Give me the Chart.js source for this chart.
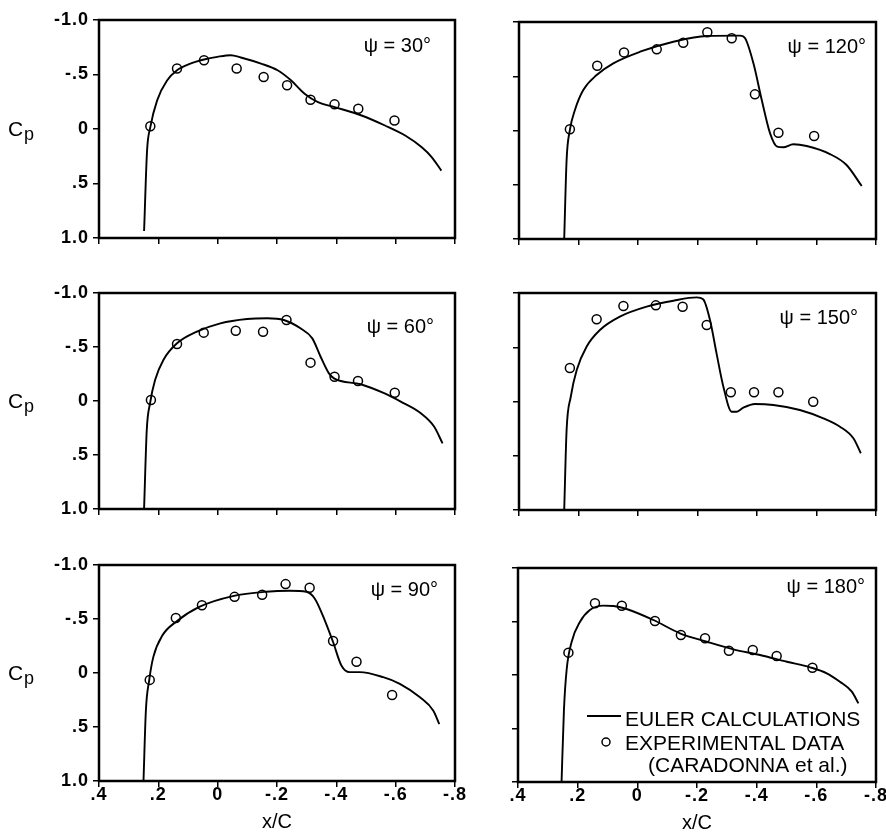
<!DOCTYPE html>
<html><head><meta charset="utf-8">
<script src="https://cdn.jsdelivr.net/npm/chart.js@4.4.1/dist/chart.umd.min.js"></script>
<style>
html,body{margin:0;padding:0;background:#fff;width:886px;height:834px;overflow:hidden;position:relative}
canvas{position:absolute;display:block}
</style></head><body>
<canvas id="p30"></canvas><canvas id="p120"></canvas>
<canvas id="p60"></canvas><canvas id="p150"></canvas>
<canvas id="p90"></canvas><canvas id="p180"></canvas>
<script>
// ---------- tick labels / categories ----------
const xTickValues = [0.4, 0.2, 0, -0.2, -0.4, -0.6, -0.8];
const xTickLabels = ['.4', '.2', '0', '-.2', '-.4', '-.6', '-.8'];
const yTickValues = [-1, -0.5, 0, 0.5, 1];
const yTickLabels = ['-1.0', '-.5', '0', '.5', '1.0'];
const panelAngles = ['30', '120', '60', '150', '90', '180'];
const seriesNames = ['EULER CALCULATIONS', 'EXPERIMENTAL DATA'];
const legendNote = '(CARADONNA et al.)';
const xAxisTitle = 'x/C';
const yAxisTitle = 'C';
const yAxisSub = 'p';

// ---------- psi = 30 ----------
const euler30X = [0.248, 0.238, 0.227, 0.204, 0.170, 0.137, 0.092, 0.046, 0.001, -0.044, -0.078, -0.146, -0.202, -0.247, -0.293, -0.338, -0.394, -0.485, -0.564, -0.632, -0.688, -0.722, -0.754];
const euler30Y = [0.935, 0.198, -0.017, -0.263, -0.447, -0.539, -0.600, -0.638, -0.662, -0.677, -0.656, -0.600, -0.539, -0.447, -0.324, -0.247, -0.201, -0.124, -0.032, 0.060, 0.168, 0.260, 0.382];
const exp30X = [0.227, 0.137, 0.046, -0.064, -0.155, -0.234, -0.313, -0.394, -0.474, -0.596];
const exp30Y = [-0.026, -0.555, -0.631, -0.555, -0.477, -0.401, -0.269, -0.226, -0.186, -0.078];

// ---------- psi = 120 ----------
const euler120X = [0.248, 0.240, 0.229, 0.212, 0.184, 0.139, 0.083, -0.007, -0.119, -0.231, -0.343, -0.360, -0.388, -0.416, -0.444, -0.468, -0.488, -0.522, -0.567, -0.645, -0.701, -0.752];
const euler120Y = [0.994, 0.272, -0.005, -0.189, -0.373, -0.511, -0.619, -0.726, -0.818, -0.871, -0.874, -0.850, -0.619, -0.281, 0.026, 0.149, 0.155, 0.127, 0.143, 0.217, 0.318, 0.512];
const exp120X = [0.229, 0.137, 0.047, -0.063, -0.152, -0.233, -0.315, -0.393, -0.472, -0.592];
const exp120Y = [-0.011, -0.597, -0.720, -0.748, -0.809, -0.905, -0.850, -0.333, 0.020, 0.051];

// ---------- psi = 60 ----------
const euler60X = [0.248, 0.239, 0.228, 0.211, 0.183, 0.137, 0.070, -0.009, -0.099, -0.167, -0.223, -0.279, -0.319, -0.347, -0.375, -0.392, -0.482, -0.561, -0.617, -0.685, -0.730, -0.758];
const euler60Y = [0.994, 0.268, 0.021, -0.194, -0.380, -0.534, -0.642, -0.719, -0.759, -0.766, -0.750, -0.673, -0.580, -0.410, -0.256, -0.210, -0.155, -0.072, 0.006, 0.114, 0.238, 0.392];
const exp60X = [0.225, 0.137, 0.047, -0.061, -0.153, -0.232, -0.313, -0.394, -0.473, -0.597];
const exp60Y = [-0.010, -0.528, -0.633, -0.651, -0.642, -0.750, -0.355, -0.225, -0.185, -0.077];

// ---------- psi = 150 ----------
const euler150X = [0.248, 0.240, 0.226, 0.206, 0.173, 0.128, 0.061, -0.029, -0.119, -0.197, -0.219, -0.242, -0.264, -0.287, -0.315, -0.332, -0.354, -0.393, -0.455, -0.544, -0.623, -0.679, -0.724, -0.749];
const euler150Y = [0.994, 0.263, -0.044, -0.290, -0.505, -0.659, -0.782, -0.874, -0.929, -0.960, -0.942, -0.751, -0.444, -0.136, 0.094, 0.094, 0.057, 0.023, 0.032, 0.078, 0.155, 0.232, 0.339, 0.477];
const exp150X = [0.229, 0.139, 0.049, -0.060, -0.150, -0.231, -0.312, -0.390, -0.472, -0.589];
const exp150Y = [-0.309, -0.758, -0.880, -0.886, -0.874, -0.705, -0.085, -0.085, -0.085, 0.002];

// ---------- psi = 90 ----------
const euler90X = [0.250, 0.242, 0.231, 0.217, 0.186, 0.141, 0.062, -0.051, -0.163, -0.242, -0.299, -0.327, -0.361, -0.389, -0.417, -0.445, -0.479, -0.558, -0.614, -0.682, -0.727, -0.747];
const euler90Y = [1.0, 0.349, 0.070, -0.147, -0.349, -0.473, -0.612, -0.712, -0.752, -0.761, -0.752, -0.690, -0.488, -0.287, -0.070, -0.008, -0.008, 0.039, 0.100, 0.225, 0.349, 0.473];
const exp90X = [0.229, 0.141, 0.053, -0.057, -0.150, -0.229, -0.310, -0.389, -0.468, -0.588];
const exp90Y = [0.064, -0.510, -0.628, -0.705, -0.724, -0.823, -0.789, -0.296, -0.104, 0.203];

// ---------- psi = 180 ----------
const euler180X = [0.254, 0.246, 0.237, 0.220, 0.192, 0.159, 0.114, 0.080, 0.036, -0.054, -0.143, -0.233, -0.322, -0.411, -0.501, -0.579, -0.635, -0.679, -0.719, -0.741];
const euler180Y = [0.997, 0.327, -0.047, -0.311, -0.498, -0.607, -0.648, -0.645, -0.617, -0.514, -0.390, -0.311, -0.240, -0.187, -0.124, -0.072, -0.016, 0.063, 0.156, 0.265];
const exp180X = [0.231, 0.142, 0.052, -0.059, -0.146, -0.227, -0.307, -0.387, -0.467, -0.587];
const exp180Y = [-0.209, -0.670, -0.648, -0.505, -0.374, -0.343, -0.227, -0.234, -0.178, -0.068];

// ---------- layout (positions / sizes only) ----------
const layouts = [
  {id:'p30',  left:0,   top:0,   w:478, h:262, padTop:20, padRight:23, yW:99, xH:24, yLab:true,  xLab:false, tagR:24, tagB:32},
  {id:'p120', left:460, top:0,   w:426, h:263, padTop:22, padRight:10, yW:59, xH:24, yLab:false, xLab:false, tagR:10, tagB:31},
  {id:'p60',  left:0,   top:270, w:478, h:263, padTop:23, padRight:23, yW:99, xH:24, yLab:true,  xLab:false, tagR:21, tagB:40},
  {id:'p150', left:460, top:270, w:426, h:264, padTop:23, padRight:10, yW:59, xH:24, yLab:false, xLab:false, tagR:18, tagB:31},
  {id:'p90',  left:0,   top:540, w:478, h:294, padTop:25, padRight:23, yW:99, xH:53, yLab:true,  xLab:true,  tagR:17, tagB:31},
  {id:'p180', left:460, top:540, w:426, h:294, padTop:28, padRight:10, yW:58, xH:52, yLab:false, xLab:true,  tagR:11, tagB:25, legend:true}
];
const seriesX = [[euler30X, exp30X], [euler120X, exp120X], [euler60X, exp60X], [euler150X, exp150X], [euler90X, exp90X], [euler180X, exp180X]];
const seriesY = [[euler30Y, exp30Y], [euler120Y, exp120Y], [euler60Y, exp60Y], [euler150Y, exp150Y], [euler90Y, exp90Y], [euler180Y, exp180Y]];

const FONT = "'Liberation Sans', Arial, Helvetica, sans-serif";
const toPts = (xs, ys) => xs.map((x, i) => ({x: x, y: ys[i]}));
const labelFor = (vals, labs, v) => { const i = vals.findIndex(t => Math.abs(t - v) < 1e-9); return i < 0 ? '' : labs[i]; };

const spacingPlugin = {
  id: 'spacing',
  beforeDraw(chart) { chart.ctx.letterSpacing = '1px'; }
};

const decorPlugin = {
  id: 'decor',
  afterDraw(chart, args, opts) {
    const ctx = chart.ctx, a = chart.chartArea, L = opts.layout, idx = opts.index;
    ctx.save();
    ctx.letterSpacing = '0px';
    // frame
    ctx.strokeStyle = '#000';
    ctx.lineWidth = 2.5;
    ctx.strokeRect(a.left, a.top, a.right - a.left, a.bottom - a.top);
    // psi tag
    ctx.fillStyle = '#000';
    ctx.font = '20px ' + FONT;
    ctx.textAlign = 'right';
    ctx.textBaseline = 'alphabetic';
    ctx.fillText('\u03C8 = ' + panelAngles[idx] + '\u00B0', a.right - L.tagR, a.top + L.tagB);
    // Cp axis label
    if (L.yLab) {
      const y0 = chart.scales.y.getPixelForValue(0);
      ctx.textAlign = 'left';
      ctx.font = '21px ' + FONT;
      ctx.fillText(yAxisTitle, 8, y0 + 7);
      ctx.font = '18px ' + FONT;
      ctx.fillText(yAxisSub, 24, y0 + 10.5);
    }
    // x axis title
    if (L.xLab) {
      ctx.textAlign = 'center';
      ctx.font = '20px ' + FONT;
      ctx.fillText(xAxisTitle, (a.left + a.right) / 2, a.bottom + 47);
    }
    // legend
    if (L.legend) {
      const ds = chart.data.datasets;
      ctx.font = '21px ' + FONT;
      ctx.textAlign = 'left';
      ctx.lineWidth = 1.8;
      ctx.beginPath();
      ctx.moveTo(a.right - 289, a.bottom - 66);
      ctx.lineTo(a.right - 255, a.bottom - 66);
      ctx.stroke();
      ctx.fillText(ds[0].label, a.right - 251, a.bottom - 56);
      ctx.lineWidth = 1.5;
      ctx.beginPath();
      ctx.arc(a.right - 270, a.bottom - 40, 4, 0, Math.PI * 2);
      ctx.stroke();
      ctx.fillText(ds[1].label, a.right - 251, a.bottom - 32);
      ctx.fillText(legendNote, a.right - 228, a.bottom - 10);
    }
    ctx.restore();
  }
};

layouts.forEach((L, idx) => {
  const cv = document.getElementById(L.id);
  cv.width = L.w; cv.height = L.h;
  cv.style.left = L.left + 'px'; cv.style.top = L.top + 'px';
  cv.style.width = L.w + 'px'; cv.style.height = L.h + 'px';
  new Chart(cv.getContext('2d'), {
    type: 'scatter',
    data: {
      datasets: [
        {label: seriesNames[0], data: toPts(seriesX[idx][0], seriesY[idx][0]), showLine: true,
         borderColor: '#000', borderWidth: 1.9, pointRadius: 0, cubicInterpolationMode: 'monotone', fill: false},
        {label: seriesNames[1], data: toPts(seriesX[idx][1], seriesY[idx][1]), showLine: false,
         pointStyle: 'circle', pointRadius: 4.5, borderWidth: 1.5, borderColor: '#000', backgroundColor: 'rgba(0,0,0,0)'}
      ]
    },
    options: {
      responsive: false, animation: false, devicePixelRatio: 1,
      layout: {padding: {top: L.padTop, right: L.padRight, left: 0, bottom: 0}},
      plugins: {legend: {display: false}, tooltip: {enabled: false}, decor: {layout: L, index: idx}},
      scales: {
        x: {
          type: 'linear', min: -0.8, max: 0.4, reverse: true, position: 'bottom',
          afterBuildTicks: s => { s.ticks = xTickValues.map(v => ({value: v})); },
          afterFit: s => { s.height = L.xH; },
          grid: {drawOnChartArea: false, drawTicks: true, tickLength: 6, color: '#000', lineWidth: 1.5},
          border: {display: false},
          ticks: {autoSkip: false, maxRotation: 0, padding: -3, color: '#000',
                  font: {family: FONT, size: 18, weight: 'bold'},
                  callback: v => L.xLab ? labelFor(xTickValues, xTickLabels, v) : ''},
          title: {display: false}
        },
        y: {
          type: 'linear', min: -1, max: 1, reverse: true, position: 'left',
          afterBuildTicks: s => { s.ticks = yTickValues.map(v => ({value: v})); },
          afterFit: s => { s.width = L.yW; },
          grid: {drawOnChartArea: false, drawTicks: true, tickLength: 6, color: '#000', lineWidth: 1.5},
          border: {display: false},
          ticks: {autoSkip: false, padding: 4, color: '#000',
                  font: {family: FONT, size: 18, weight: 'bold'},
                  callback: v => L.yLab ? labelFor(yTickValues, yTickLabels, v) : ''}
        }
      }
    },
    plugins: [spacingPlugin, decorPlugin]
  });
});
</script>
</body></html>
